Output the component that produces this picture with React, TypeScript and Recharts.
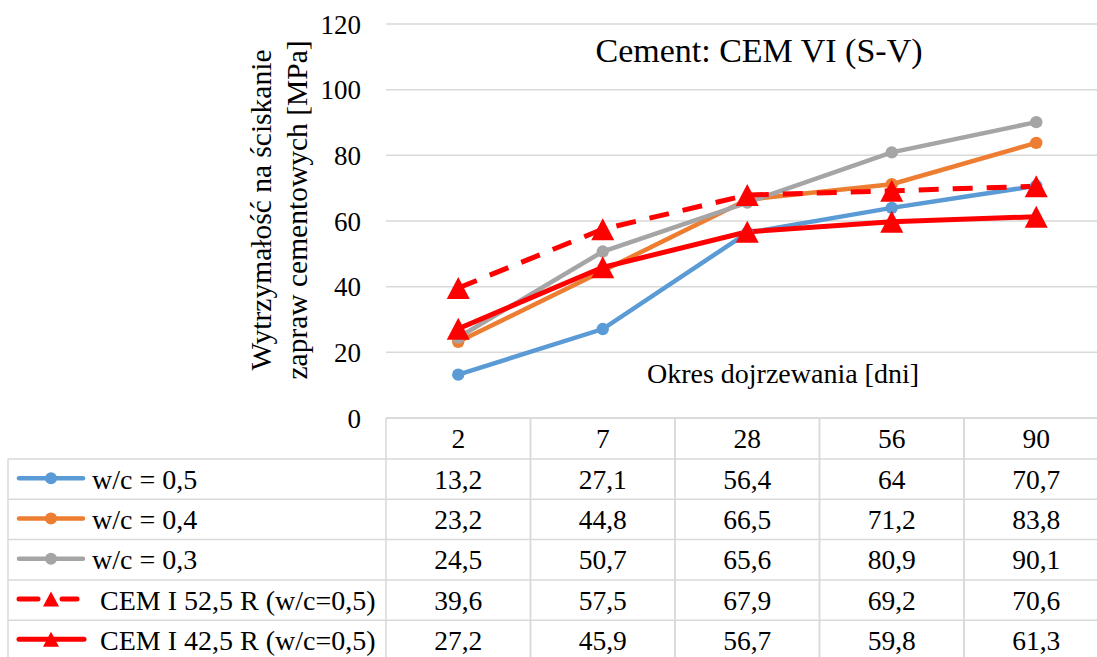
import React from 'react';
import { LineChart, Line, XAxis, YAxis, CartesianGrid, Customized } from 'recharts';

// Curing periods (days) and compressive strength results [MPa]
const days = ['2', '7', '28', '56', '90'];
const wc05 = [13.2, 27.1, 56.4, 64, 70.7];
const wc04 = [23.2, 44.8, 66.5, 71.2, 83.8];
const wc03 = [24.5, 50.7, 65.6, 80.9, 90.1];
const cem525 = [39.6, 57.5, 67.9, 69.2, 70.6];
const cem425 = [27.2, 45.9, 56.7, 59.8, 61.3];
const yTicks = [0, 20, 40, 60, 80, 100, 120];

const seriesNames = ['w/c = 0,5', 'w/c = 0,4', 'w/c = 0,3', 'CEM I 52,5 R (w/c=0,5)', 'CEM I 42,5 R (w/c=0,5)'];
const seriesValues = [wc05, wc04, wc03, cem525, cem425];

type SeriesStyle = { key: string; color: string; width: number; dashed: boolean; marker: 'circle' | 'triangle' };
const seriesStyles: SeriesStyle[] = [
  { key: 's0', color: '#5B9BD5', width: 4.5, dashed: false, marker: 'circle' },
  { key: 's1', color: '#ED7D31', width: 4.5, dashed: false, marker: 'circle' },
  { key: 's2', color: '#A5A5A5', width: 4.5, dashed: false, marker: 'circle' },
  { key: 's3', color: '#FF0000', width: 5, dashed: true, marker: 'triangle' },
  { key: 's4', color: '#FF0000', width: 5, dashed: false, marker: 'triangle' },
];

const data = days.map((d, i) => {
  const row: Record<string, string | number> = { day: d };
  seriesValues.forEach((vals, s) => {
    row[seriesStyles[s].key] = vals[i];
  });
  return row;
});

const FONT = "'Liberation Serif', serif";
const fontStyle = { fontFamily: FONT };
const GRID = '#D9D9D9';
const CHART_W = 1110;
const CHART_H = 657;
const PLOT_LEFT = 386;
const PLOT_RIGHT = 1108.5;
const PLOT_TOP = 24;
const PLOT_BOTTOM = 418;
const COL_W = (PLOT_RIGHT - PLOT_LEFT) / days.length;
const HEADER_H = 41;
const ROW_H = 40.3;
const LEGEND_LEFT = 8;
const TEXT_SIZE = 27.5;
const LEGEND_TEXT_SIZE = 28;

const fmt = (v: number) => String(v).replace('.', ',');

const Triangle = ({ cx, cy, color, w, h }: { cx: number; cy: number; color: string; w: number; h: number }) => (
  <path d={`M${cx},${cy - h / 2} L${cx + w / 2},${cy + h / 2} L${cx - w / 2},${cy + h / 2} Z`} fill={color} />
);

const makeDot = (st: SeriesStyle) => (props: any) => {
  const { cx, cy, index } = props;
  if (cx == null || cy == null) return <g key={`${st.key}-${index}`} />;
  if (st.marker === 'triangle') {
    return (
      <g key={`${st.key}-${index}`}>
        <Triangle cx={cx} cy={cy} color={st.color} w={23} h={22} />
      </g>
    );
  }
  return <circle key={`${st.key}-${index}`} cx={cx} cy={cy} r={6.2} fill={st.color} />;
};

// Legend key drawn in the first column of the data table
const LegendKey = ({ st, cy }: { st: SeriesStyle; cy: number }) => {
  const x0 = 17;
  const xm = 51;
  if (st.dashed) {
    return (
      <g>
        <line x1={x0 + 2} y1={cy} x2={38} y2={cy} stroke={st.color} strokeWidth={st.width} strokeLinecap="round" />
        <line x1={62} y1={cy} x2={77} y2={cy} stroke={st.color} strokeWidth={st.width} strokeLinecap="round" />
        <Triangle cx={xm} cy={cy} color={st.color} w={16} h={15} />
      </g>
    );
  }
  const x1 = st.marker === 'triangle' ? 84 : 83;
  return (
    <g>
      <line x1={x0 + 2} y1={cy} x2={x1} y2={cy} stroke={st.color} strokeWidth={st.width} strokeLinecap="round" />
      {st.marker === 'circle' ? (
        <circle cx={xm} cy={cy} r={6} fill={st.color} />
      ) : (
        <Triangle cx={xm} cy={cy} color={st.color} w={16} h={15} />
      )}
    </g>
  );
};

// X axis tick rendered as one column of the data table below the plot
const TableTick = (props: any) => {
  const { x, payload } = props;
  const top = PLOT_BOTTOM;
  const idx = days.indexOf(String(payload.value));
  const left = x - COL_W / 2;
  const right = x + COL_W / 2;
  const bottom = top + HEADER_H + seriesNames.length * ROW_H;
  const rowY = (k: number) => top + HEADER_H + k * ROW_H;
  return (
    <g style={fontStyle}>
      <line x1={left} y1={top} x2={left} y2={bottom} stroke={GRID} strokeWidth={1.5} />
      <line x1={right} y1={top} x2={right} y2={bottom} stroke={GRID} strokeWidth={1.5} />
      <line x1={left} y1={top} x2={right} y2={top} stroke={GRID} strokeWidth={1.5} />
      {seriesNames.map((_, k) => (
        <line key={`h${k}`} x1={left} y1={rowY(k)} x2={right} y2={rowY(k)} stroke={GRID} strokeWidth={1.5} />
      ))}
      <text x={x} y={top + HEADER_H / 2} textAnchor="middle" dominantBaseline="central" style={fontStyle} fontSize={TEXT_SIZE} fill="#000">
        {payload.value}
      </text>
      {seriesValues.map((vals, k) => (
        <text key={`v${k}`} x={x} y={rowY(k) + ROW_H / 2} textAnchor="middle" dominantBaseline="central" style={fontStyle} fontSize={TEXT_SIZE} fill="#000">
          {fmt(vals[idx])}
        </text>
      ))}
      {idx === 0 && (
        <g>
          <line x1={LEGEND_LEFT} y1={rowY(0)} x2={LEGEND_LEFT} y2={bottom} stroke={GRID} strokeWidth={1.5} />
          {seriesNames.map((_, k) => (
            <line key={`lh${k}`} x1={LEGEND_LEFT} y1={rowY(k)} x2={left} y2={rowY(k)} stroke={GRID} strokeWidth={1.5} />
          ))}
          {seriesNames.map((name, k) => {
            const st = seriesStyles[k];
            const cy = rowY(k) + ROW_H / 2;
            return (
              <g key={`lg${k}`}>
                <LegendKey st={st} cy={cy - 1} />
                <text x={st.marker === 'triangle' ? 100 : 92} y={cy} dominantBaseline="central" style={fontStyle} fontSize={LEGEND_TEXT_SIZE} fill="#000">
                  {name}
                </text>
              </g>
            );
          })}
        </g>
      )}
    </g>
  );
};

const Annotations = () => (
  <g style={fontStyle} fill="#000">
    <text x={759} y={62} textAnchor="middle" fontSize={34} style={fontStyle}>
      Cement: CEM VI (S-V)
    </text>
    <text x={783} y={383} textAnchor="middle" fontSize={28} style={fontStyle}>
      Okres dojrzewania [dni]
    </text>
    <text transform="translate(261,210) rotate(-90)" textAnchor="middle" dominantBaseline="central" fontSize={29.5} style={fontStyle}>
      Wytrzymałość na ściskanie
    </text>
    <text transform="translate(297,210) rotate(-90)" textAnchor="middle" dominantBaseline="central" fontSize={29.5} style={fontStyle}>
      zapraw cementowych [MPa]
    </text>
  </g>
);

export default function App() {
  const yAxisWidth = 80;
  return (
    <div style={{ position: 'absolute', left: 0, top: 0, width: 1097, height: 657, overflow: 'hidden', background: '#fff', fontFamily: FONT }}>
      <LineChart
        width={CHART_W}
        height={CHART_H}
        data={data}
        style={fontStyle}
        margin={{ top: PLOT_TOP, right: CHART_W - PLOT_RIGHT, bottom: 0, left: PLOT_LEFT - yAxisWidth }}
      >
        <CartesianGrid horizontal vertical={false} stroke={GRID} strokeWidth={1.5} />
        <XAxis
          dataKey="day"
          scale="band"
          interval={0}
          height={CHART_H - PLOT_BOTTOM}
          axisLine={false}
          tickLine={false}
          tickSize={0}
          tickMargin={0}
          tick={<TableTick />}
        />
        <YAxis
          width={yAxisWidth}
          domain={[0, 120]}
          ticks={yTicks}
          interval={0}
          axisLine={false}
          tickLine={false}
          tickSize={0}
          tickMargin={25}
          tick={{ style: fontStyle, fontSize: 27, fill: '#000' }}
        />
        {seriesStyles.map((st) => (
          <Line
            key={st.key}
            dataKey={st.key}
            type="linear"
            stroke={st.color}
            strokeWidth={st.width}
            strokeDasharray={st.dashed ? '20 14' : undefined}
            dot={makeDot(st)}
            activeDot={false}
            isAnimationActive={false}
          />
        ))}
        <Customized component={<Annotations />} />
      </LineChart>
    </div>
  );
}
